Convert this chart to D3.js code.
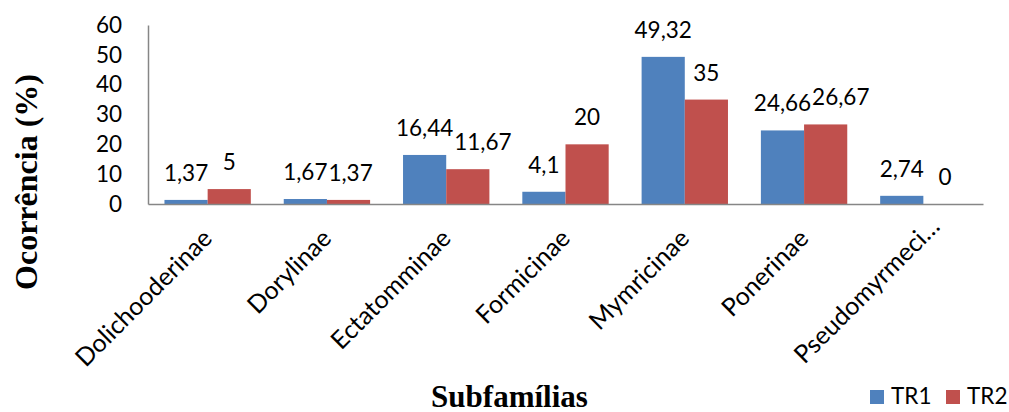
<!DOCTYPE html>
<html>
<head>
<meta charset="utf-8">
<script src="https://cdn.jsdelivr.net/npm/d3@7"></script>
<style>
  html, body { margin: 0; padding: 0; background: #fff; }
  svg { display: block; }
</style>
</head>
<body>
<svg id="chart" width="1009" height="412"></svg>
<script>
const categories = ["Dolichooderinae", "Dorylinae", "Ectatomminae", "Formicinae", "Mymricinae", "Ponerinae", "Pseudomyrmeci…"];
const seriesNames = ["TR1", "TR2"];
const tr1 = [1.37, 1.67, 16.44, 4.1, 49.32, 24.66, 2.74];
const tr2 = [5, 1.37, 11.67, 20, 35, 26.67, 0];
const valueLabels1 = ["1,37", "1,67", "16,44", "4,1", "49,32", "24,66", "2,74"];
const valueLabels2 = ["5", "1,37", "11,67", "20", "35", "26,67", "0"];
const yTicks = [0, 10, 20, 30, 40, 50, 60];
const colors = ["#4F81BD", "#C0504D"];

const svg = d3.select("#chart");
const labelFont = "Lato, 'Open Sans', sans-serif";
const titleFont = "'Liberation Serif', 'Times New Roman', serif";

const x0 = d3.scaleBand().domain(categories).range([148, 983]).paddingInner(0.276).paddingOuter(0.138);
const x1 = d3.scaleBand().domain(seriesNames).range([0, x0.bandwidth()]).padding(0);
const y = d3.scaleLinear().domain([0, 60]).range([204, 25]);

const rows = categories.map((c, i) => ({
  cat: c,
  vals: [
    { s: "TR1", v: tr1[i], lab: valueLabels1[i], col: colors[0] },
    { s: "TR2", v: tr2[i], lab: valueLabels2[i], col: colors[1] }
  ]
}));

// bars
const g = svg.append("g");
const groups = g.selectAll("g.cat").data(rows).join("g")
  .attr("transform", d => `translate(${x0(d.cat)},0)`);
groups.selectAll("rect").data(d => d.vals).join("rect")
  .attr("x", d => x1(d.s))
  .attr("width", x1.bandwidth())
  .attr("y", d => y(d.v))
  .attr("height", d => y(0) - y(d.v))
  .attr("fill", d => d.col);

// value labels with simple overlap avoidance (shift TR2 label right)
groups.each(function(d) {
  const grp = d3.select(this);
  const texts = d.vals.map(v => grp.append("text")
    .attr("x", x1(v.s) + x1.bandwidth() / 2)
    .attr("y", y(v.v) - 19)
    .attr("text-anchor", "middle")
    .attr("font-family", labelFont)
    .attr("font-size", 22.5)
    .attr("fill", "#000")
    .text(v.lab));
  const b1 = texts[0].node().getBBox();
  const b2 = texts[1].node().getBBox();
  const yDist = Math.abs((y(d.vals[0].v)) - (y(d.vals[1].v)));
  if (b2.x < b1.x + b1.width + 1 && yDist < 22) {
    const shift = b1.x + b1.width + 1 - b2.x;
    texts[1].attr("x", +texts[1].attr("x") + shift);
  }
});

// y axis
const yAxis = d3.axisLeft(y).tickValues(yTicks).tickSize(0).tickPadding(26).tickFormat(d3.format("d"));
const ya = svg.append("g").attr("transform", "translate(148,0)").call(yAxis);
ya.select(".domain").attr("stroke", "#868686").attr("stroke-width", 1.5);
ya.selectAll("text").attr("font-family", labelFont).attr("font-size", 22.5).attr("fill", "#000");

// x axis
const xAxis = d3.axisBottom(x0).tickSize(0).tickFormat("");
const xa = svg.append("g").attr("transform", "translate(0,204)").call(xAxis);
xa.select(".domain").attr("stroke", "#868686").attr("stroke-width", 1.5);

// category labels
svg.append("g").selectAll("text").data(categories).join("text")
  .attr("transform", d => {
    const cx = x0(d) + x0.bandwidth() / 2;
    const trunc = d.endsWith("…");
    const ax = cx + 6 + (trunc ? 12 : 0);
    const ay = 240 - (trunc ? 12 : 0);
    return `translate(${ax},${ay}) rotate(-45)`;
  })
  .attr("text-anchor", "end")
  .attr("font-family", labelFont)
  .attr("font-size", 25)
  .attr("fill", "#000")
  .text(d => d);

// axis titles
svg.append("text")
  .attr("transform", "translate(37,182) rotate(-90)")
  .attr("text-anchor", "middle")
  .attr("font-family", titleFont)
  .attr("font-weight", "bold")
  .attr("font-size", 32)
  .attr("fill", "#000")
  .text("Ocorrência (%)");
svg.append("text")
  .attr("x", 509.5)
  .attr("y", 407)
  .attr("text-anchor", "middle")
  .attr("font-family", titleFont)
  .attr("font-weight", "bold")
  .attr("font-size", 31)
  .attr("fill", "#000")
  .text("Subfamílias");

// legend
const legendX = [870, 946];
const lg = svg.append("g").selectAll("g").data(seriesNames).join("g")
  .attr("transform", (d, i) => `translate(${legendX[i]},390)`);
lg.append("rect").attr("width", 14).attr("height", 14).attr("fill", (d, i) => colors[i]);
lg.append("text").attr("x", 21).attr("y", 14)
  .attr("font-family", labelFont).attr("font-size", 22.5).attr("fill", "#000")
  .text(d => d);
</script>
</body>
</html>
